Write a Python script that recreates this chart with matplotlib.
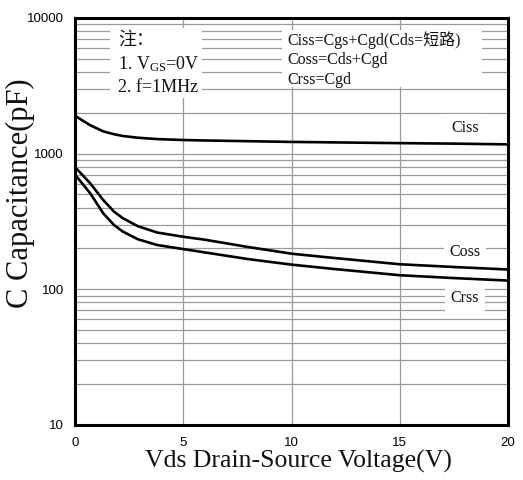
import matplotlib
matplotlib.use("Agg")
import matplotlib.pyplot as plt
import matplotlib.ticker as ticker
from matplotlib.patches import Rectangle

# Capacitance vs drain-source voltage
VDS = [0, 0.7, 1.3, 1.8, 2.2, 2.9, 3.8, 5, 6, 8, 10, 12, 15, 17.5, 20]
CISS = [1900, 1620, 1460, 1390, 1350, 1310, 1280, 1260, 1250, 1235, 1220, 1210, 1195, 1185, 1170]
COSS = [795, 605, 456, 374, 335, 292, 262, 244, 232, 205, 183, 170, 153, 146, 140]
CRSS = [700, 511, 364, 298, 267, 234, 212, 198, 187, 167, 152, 141, 127, 121, 116]

X_TICKS = [0, 5, 10, 15, 20]
Y_TICKS = [10, 100, 1000, 10000]
NOTE_LINES = ["注：", "1. V$_\\mathrm{GS}$=0V", "2. f=1MHz"]
DEF_LINES = ["Ciss=Cgs+Cgd(Cds=短路)", "Coss=Cds+Cgd", "Crss=Cgd"]
CURVE_LABELS = [("Ciss", 1545), ("Coss", 189), ("Crss", 86)]

SERIF = ["Liberation Serif", "Noto Sans CJK SC", "DejaVu Sans"]
plt.rcParams["mathtext.fontset"] = "custom"
plt.rcParams["mathtext.rm"] = "Liberation Serif"
plt.rcParams["mathtext.it"] = "Liberation Serif:italic"

fig = plt.figure(figsize=(5.23, 4.8), dpi=100)
ax = fig.add_axes([0.1434, 0.1146, 0.828, 0.848])

ax.set_yscale("log")
ax.set_xlim(0, 20)
ax.set_ylim(10, 10000)

# grid
ax.set_xticks(X_TICKS)
ax.set_yticks(Y_TICKS)
ax.yaxis.set_major_formatter(ticker.FuncFormatter(lambda v, p: f"{v:.0f}"))
ax.yaxis.set_minor_locator(ticker.LogLocator(base=10, subs=range(2, 10)))
ax.yaxis.set_minor_formatter(ticker.NullFormatter())
ax.grid(True, which="both", axis="y", color="#9a9a9a", linewidth=0.9)
ax.grid(True, which="major", axis="x", color="#9a9a9a", linewidth=0.9)
ax.set_axisbelow(True)
ax.tick_params(which="both", length=0)
ax.tick_params(axis="y", pad=8, labelsize=9.5)
ax.tick_params(axis="x", pad=9, labelsize=9.5)
for lbl in ax.get_xticklabels() + ax.get_yticklabels():
    lbl.set_family("Liberation Sans")

for s in ax.spines.values():
    s.set_linewidth(2.2)
    s.set_zorder(5)

for series in (CISS, COSS, CRSS):
    ax.plot(VDS, series, color="black", linewidth=1.9, zorder=4)

# note boxes
ax.add_patch(Rectangle((0.081, 0.803), 0.212, 0.172, transform=ax.transAxes,
                       facecolor="white", edgecolor="none", zorder=2))
ax.add_patch(Rectangle((0.478, 0.83), 0.462, 0.141, transform=ax.transAxes,
                       facecolor="white", edgecolor="none", zorder=2))
for i, line in enumerate(NOTE_LINES):
    ax.text(0.1, 0.945 - i * 0.058, line, transform=ax.transAxes, fontsize=13,
            family=SERIF, va="center", ha="left", zorder=3, color="#111111")
for i, line in enumerate(DEF_LINES):
    ax.text(0.49, 0.945 - i * 0.049, line, transform=ax.transAxes, fontsize=11.5,
            family=SERIF, va="center", ha="left", zorder=3, color="#111111")

# curve labels
for name, yv in CURVE_LABELS:
    ax.text(18.0, yv, name, fontsize=11.5, family=SERIF, ha="center", va="center",
            zorder=3, color="#111111",
            bbox=dict(facecolor="white", edgecolor="none", pad=4))

ax.set_xlabel("Vds Drain-Source Voltage(V)", fontsize=18.5, family=SERIF, color="#111111")
ax.set_ylabel("C Capacitance(pF)", fontsize=22, family=SERIF, color="#111111")
ax.xaxis.set_label_coords(0.515, -0.062)
ax.yaxis.set_label_coords(-0.092, 0.57)

fig.savefig("out.png", dpi=100)
